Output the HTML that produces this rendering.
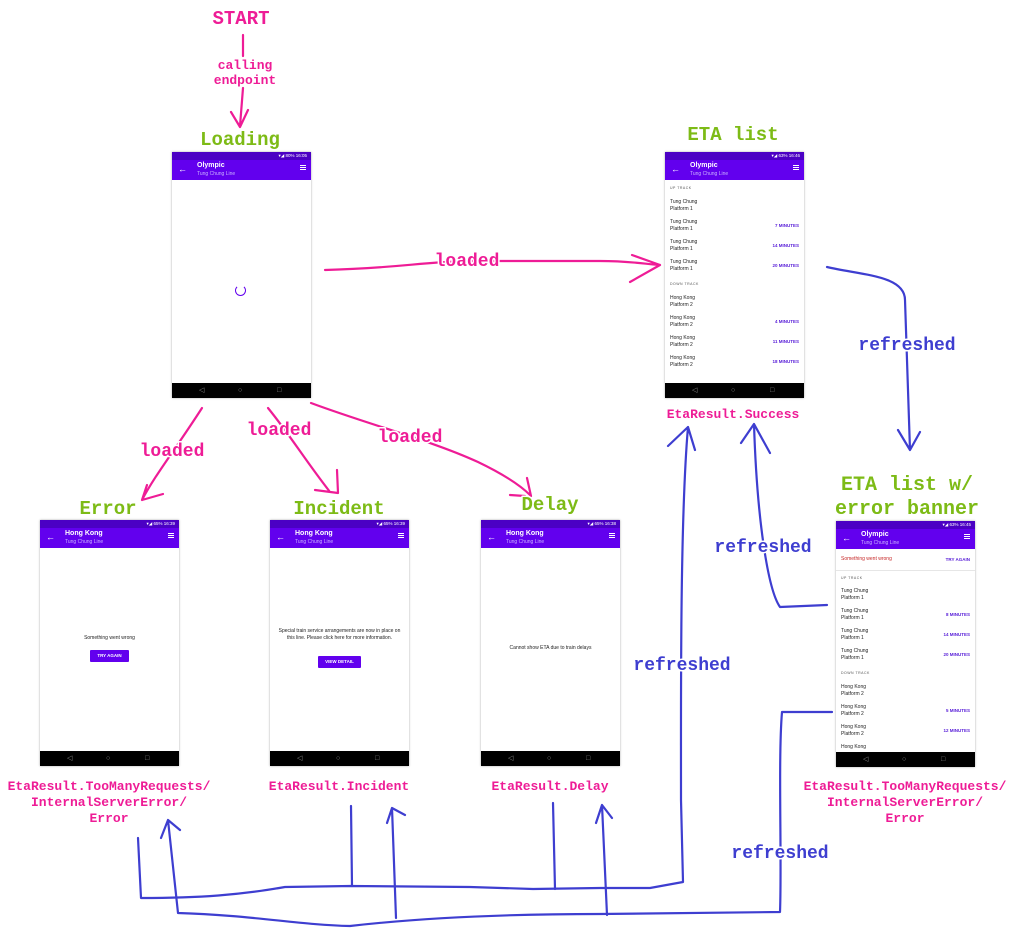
<!DOCTYPE html>
<html><head><meta charset="utf-8">
<style>
*{margin:0;padding:0;box-sizing:border-box}
body{width:1024px;height:937px;background:#fff;position:relative;overflow:hidden;font-family:"Liberation Sans",sans-serif}
.ph{position:absolute;width:139px;height:246px;background:#fff;box-shadow:0 0 2px rgba(0,0,0,.35)}
.sb{position:absolute;left:0;top:0;width:100%;height:8px;background:#4b00c4;color:#fff;font-size:4.5px;line-height:8px;text-align:right;padding-right:4px}
.tb{position:absolute;left:0;top:8px;width:100%;height:20px;background:#6200ee;color:#fff}
.tb .ar{position:absolute;left:6px;top:4px;font-size:9px}
.tb .t1{position:absolute;left:25px;top:2px;font-size:7px;font-weight:bold}
.tb .t2{position:absolute;left:25px;top:11px;font-size:5px;color:#c9b0ff}
.tb .mn{position:absolute;right:5px;top:5px;width:6px;height:1px;background:#fff;box-shadow:0 2px 0 #fff,0 4px 0 #fff}
.nb{position:absolute;left:0;bottom:0;width:100%;height:15px;background:#000;color:#888;font-size:7px;line-height:15px}
.nb span{position:absolute}
.c{position:absolute;font-size:5px;color:#222;line-height:7px}
.m{position:absolute;right:5px;font-size:4.5px;color:#5a20d8;font-weight:bold}
.h{position:absolute;left:5px;font-size:3.5px;color:#555;letter-spacing:.5px}
.btn{position:absolute;background:#6200ee;color:#fff;font-size:4.5px;font-weight:bold;text-align:center;border-radius:1px}
svg{position:absolute;left:0;top:0}
</style></head><body>

<div class="ph" style="left:172px;top:152px">
<div class="sb">▾◢ 80% 16:05</div><div class="tb"><span class="ar">←</span><span class="t1">Olympic</span><span class="t2">Tung Chung Line</span><span class="mn"></span></div>
<div style="position:absolute;left:63px;top:133px;width:11px;height:11px;border:1.5px solid #6200ee;border-top-color:transparent;border-radius:50%"></div>
<div class="nb"><span style="left:27px">◁</span><span style="left:66px">○</span><span style="left:105px">□</span></div>
</div>

<div class="ph" style="left:665px;top:152px">
<div class="sb">▾◢ 63% 16:46</div><div class="tb"><span class="ar">←</span><span class="t1">Olympic</span><span class="t2">Tung Chung Line</span><span class="mn"></span></div>
<div class="h" style="top:34px">UP TRACK</div>
<div class="c" style="left:5px;top:47px">Tung Chung<br>Platform 1</div>
<div class="c" style="left:5px;top:67px">Tung Chung<br>Platform 1</div><div class="m" style="top:71px">7 MINUTES</div>
<div class="c" style="left:5px;top:87px">Tung Chung<br>Platform 1</div><div class="m" style="top:91px">14 MINUTES</div>
<div class="c" style="left:5px;top:107px">Tung Chung<br>Platform 1</div><div class="m" style="top:111px">20 MINUTES</div>
<div class="h" style="top:130px">DOWN TRACK</div>
<div class="c" style="left:5px;top:143px">Hong Kong<br>Platform 2</div>
<div class="c" style="left:5px;top:163px">Hong Kong<br>Platform 2</div><div class="m" style="top:167px">4 MINUTES</div>
<div class="c" style="left:5px;top:183px">Hong Kong<br>Platform 2</div><div class="m" style="top:187px">11 MINUTES</div>
<div class="c" style="left:5px;top:203px">Hong Kong<br>Platform 2</div><div class="m" style="top:207px">18 MINUTES</div>
<div class="nb"><span style="left:27px">◁</span><span style="left:66px">○</span><span style="left:105px">□</span></div>
</div>

<div class="ph" style="left:40px;top:520px">
<div class="sb">▾◢ 65% 16:39</div><div class="tb"><span class="ar">←</span><span class="t1">Hong Kong</span><span class="t2">Tung Chung Line</span><span class="mn"></span></div>
<div class="c" style="left:0;width:139px;text-align:center;top:115px">Something went wrong</div>
<div class="btn" style="left:50px;top:130px;width:39px;height:12px;line-height:12px">TRY AGAIN</div>
<div class="nb"><span style="left:27px">◁</span><span style="left:66px">○</span><span style="left:105px">□</span></div>
</div>

<div class="ph" style="left:270px;top:520px">
<div class="sb">▾◢ 65% 16:39</div><div class="tb"><span class="ar">←</span><span class="t1">Hong Kong</span><span class="t2">Tung Chung Line</span><span class="mn"></span></div>
<div class="c" style="left:8px;width:123px;text-align:center;top:108px;line-height:6.5px">Special train service arrangements are now in place on this line. Please click here for more information.</div>
<div class="btn" style="left:48px;top:136px;width:43px;height:12px;line-height:12px">VIEW DETAIL</div>
<div class="nb"><span style="left:27px">◁</span><span style="left:66px">○</span><span style="left:105px">□</span></div>
</div>

<div class="ph" style="left:481px;top:520px">
<div class="sb">▾◢ 65% 16:38</div><div class="tb"><span class="ar">←</span><span class="t1">Hong Kong</span><span class="t2">Tung Chung Line</span><span class="mn"></span></div>
<div class="c" style="left:0;width:139px;text-align:center;top:125px">Cannot show ETA due to train delays</div>
<div class="nb"><span style="left:27px">◁</span><span style="left:66px">○</span><span style="left:105px">□</span></div>
</div>

<div class="ph" style="left:836px;top:521px">
<div class="sb">▾◢ 63% 16:45</div><div class="tb"><span class="ar">←</span><span class="t1">Olympic</span><span class="t2">Tung Chung Line</span><span class="mn"></span></div>
<div class="c" style="left:5px;top:35px;color:#c62828">Something went wrong</div><div class="m" style="top:36px">TRY AGAIN</div>
<div style="position:absolute;left:0;top:49px;width:100%;height:1px;background:#e6e6e6"></div>
<div class="h" style="top:55px">UP TRACK</div>
<div class="c" style="left:5px;top:67px">Tung Chung<br>Platform 1</div>
<div class="c" style="left:5px;top:87px">Tung Chung<br>Platform 1</div><div class="m" style="top:91px">8 MINUTES</div>
<div class="c" style="left:5px;top:107px">Tung Chung<br>Platform 1</div><div class="m" style="top:111px">14 MINUTES</div>
<div class="c" style="left:5px;top:127px">Tung Chung<br>Platform 1</div><div class="m" style="top:131px">20 MINUTES</div>
<div class="h" style="top:150px">DOWN TRACK</div>
<div class="c" style="left:5px;top:163px">Hong Kong<br>Platform 2</div>
<div class="c" style="left:5px;top:183px">Hong Kong<br>Platform 2</div><div class="m" style="top:187px">5 MINUTES</div>
<div class="c" style="left:5px;top:203px">Hong Kong<br>Platform 2</div><div class="m" style="top:207px">12 MINUTES</div>
<div class="c" style="left:5px;top:223px">Hong Kong</div>
<div class="nb"><span style="left:27px">◁</span><span style="left:66px">○</span><span style="left:105px">□</span></div>
</div>

<svg width="1024" height="937" viewBox="0 0 1024 937">
<defs><style>
.t{font-family:"Liberation Mono",monospace;font-weight:bold;paint-order:stroke;stroke:#fff;stroke-width:3px;stroke-linejoin:round}
.pk{fill:#ee1c96}.gr{fill:#7dbb16}.bl{fill:#3e3ed0}
.lp{fill:none;stroke:#ee1c96;stroke-width:2.2;stroke-linecap:round;stroke-linejoin:round}
.lb{fill:none;stroke:#3e3ed0;stroke-width:2.2;stroke-linecap:round;stroke-linejoin:round}
</style></defs>

<path class="lp" d="M243 35 L243 56"/>
<path class="lp" d="M243 88 L240 126 M231 112 L240 127 L248 110"/>
<path class="lp" d="M325 270 C400 268 420 262 470 261 L600 261 C630 261 645 264 660 265 M632 255 L660 265 M630 282 L660 265"/>
<path class="lp" d="M202 408 C175 450 155 475 142 500 M163 494 L142 500 M147 485 L142 500"/>
<path class="lp" d="M268 408 C290 435 305 460 330 492 M315 490 L338 493 L337 470"/>
<path class="lp" d="M311 403 C370 425 430 440 478 462 C505 475 520 485 530 495 M527 478 L531 496 M510 495 L525 496"/>

<path class="lb" d="M827 267 C860 275 905 275 905 300 L910 450 M898 430 L910 450 L920 432"/>
<path class="lb" d="M827 605 L780 607 C768 590 757 520 754 424 M741 443 L754 424 L770 453"/>
<path class="lb" d="M688 427 C680 520 681 700 681 800 L683 882 L650 888 L600 888 L533 889 L470 887 L350 886 L285 887 C240 895 200 898 141 898 L138 838 M668 446 L688 427 L695 450"/>
<path class="lb" d="M832 712 L782 712 C778 760 782 860 780 912 L600 914 C500 914 420 918 350 926 C300 925 250 915 178 913 L168 820 M161 838 L168 820 L180 830"/>
<path class="lb" d="M351 806 L352 886"/>
<path class="lb" d="M396 918 L392 808 M387 823 L392 808 L405 815"/>
<path class="lb" d="M553 803 L555 889"/>
<path class="lb" d="M607 915 L602 805 M596 823 L602 805 L612 818"/>

<text class="t pk" x="241" y="24" font-size="19" text-anchor="middle">START</text>
<text class="t pk" x="245" y="69" font-size="13" text-anchor="middle">calling</text>
<text class="t pk" x="245" y="84" font-size="13" text-anchor="middle">endpoint</text>
<text class="t gr" x="240" y="145" font-size="19" text-anchor="middle">Loading</text>
<text class="t gr" x="733" y="140" font-size="19" text-anchor="middle">ETA list</text>
<text class="t pk" x="467" y="266" font-size="18" text-anchor="middle">loaded</text>
<text class="t pk" x="172" y="456" font-size="18" text-anchor="middle">loaded</text>
<text class="t pk" x="279" y="435" font-size="18" text-anchor="middle">loaded</text>
<text class="t pk" x="410" y="442" font-size="18" text-anchor="middle">loaded</text>
<text class="t gr" x="108" y="514" font-size="19" text-anchor="middle">Error</text>
<text class="t gr" x="339" y="514" font-size="19" text-anchor="middle">Incident</text>
<text class="t gr" x="550" y="510" font-size="19" text-anchor="middle">Delay</text>
<text class="t pk" x="733" y="418" font-size="13" text-anchor="middle">EtaResult.Success</text>
<text class="t bl" x="907" y="350" font-size="18" text-anchor="middle">refreshed</text>
<text class="t gr" x="907" y="490" font-size="20" text-anchor="middle">ETA list w/</text>
<text class="t gr" x="907" y="514" font-size="20" text-anchor="middle">error banner</text>
<text class="t bl" x="763" y="552" font-size="18" text-anchor="middle">refreshed</text>
<text class="t bl" x="682" y="670" font-size="18" text-anchor="middle">refreshed</text>
<text class="t bl" x="780" y="858" font-size="18" text-anchor="middle">refreshed</text>
<text class="t pk" x="109" y="790" font-size="13" text-anchor="middle">EtaResult.TooManyRequests/</text>
<text class="t pk" x="109" y="806" font-size="13" text-anchor="middle">InternalServerError/</text>
<text class="t pk" x="109" y="822" font-size="13" text-anchor="middle">Error</text>
<text class="t pk" x="339" y="790" font-size="13" text-anchor="middle">EtaResult.Incident</text>
<text class="t pk" x="550" y="790" font-size="13" text-anchor="middle">EtaResult.Delay</text>
<text class="t pk" x="905" y="790" font-size="13" text-anchor="middle">EtaResult.TooManyRequests/</text>
<text class="t pk" x="905" y="806" font-size="13" text-anchor="middle">InternalServerError/</text>
<text class="t pk" x="905" y="822" font-size="13" text-anchor="middle">Error</text>
</svg>
</body></html>
